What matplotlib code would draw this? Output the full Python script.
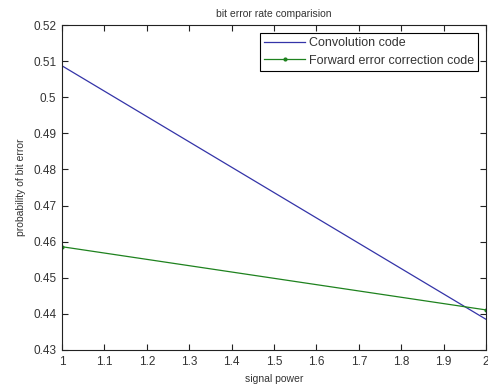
import matplotlib
matplotlib.use("Agg")
import matplotlib.pyplot as plt

plt.rcParams["font.family"] = ["Liberation Sans", "DejaVu Sans"]
plt.rcParams["font.size"] = 8

# data
signal_power = [1, 2]
conv_code = [0.5087, 0.4385]
fec_code = [0.4586, 0.4411]

x_ticks = [1, 1.1, 1.2, 1.3, 1.4, 1.5, 1.6, 1.7, 1.8, 1.9, 2]
x_labels = ["1", "1.1", "1.2", "1.3", "1.4", "1.5", "1.6", "1.7", "1.8", "1.9", "2"]
y_ticks = [0.43, 0.44, 0.45, 0.46, 0.47, 0.48, 0.49, 0.5, 0.51, 0.52]
y_labels = ["0.43", "0.44", "0.45", "0.46", "0.47", "0.48", "0.49", "0.5", "0.51", "0.52"]

text_col = "#333333"

fig = plt.figure(figsize=(4.89, 3.87), dpi=100)
ax = fig.add_axes([62 / 489, 37 / 387, 424 / 489, 325 / 387])

ax.plot(signal_power, conv_code, color="#3434a8", lw=0.9, label="Convolution code")
ax.plot(signal_power, fec_code, color="#1e821e", lw=0.9, marker=".", ms=4,
        label="Forward error correction code")

ax.set_xlim(1, 2)
ax.set_ylim(0.43, 0.52)
ax.set_xticks(x_ticks)
ax.set_xticklabels(x_labels)
ax.set_yticks(y_ticks)
ax.set_yticklabels(y_labels)
ax.tick_params(direction="in", top=True, right=True, length=4, width=0.8,
               labelsize=8.5, color="#222222", labelcolor=text_col, pad=4)
for spine in ax.spines.values():
    spine.set_linewidth(0.8)
    spine.set_color("#222222")

ax.set_title("bit error rate comparision", fontsize=7.5, pad=6, color=text_col)
ax.set_xlabel("signal power", fontsize=7.5, labelpad=5, color=text_col)
ax.set_ylabel("probability of bit error", fontsize=7.5, labelpad=5, color=text_col)

leg = ax.legend(loc="upper right", fontsize=9, fancybox=False, framealpha=1,
                edgecolor="black", borderaxespad=0.6, handlelength=3.3,
                handletextpad=0.3, borderpad=0.35, labelspacing=0.45)
leg.get_frame().set_linewidth(0.8)
for t in leg.get_texts():
    t.set_color(text_col)

fig.savefig("out.png", dpi=100)
